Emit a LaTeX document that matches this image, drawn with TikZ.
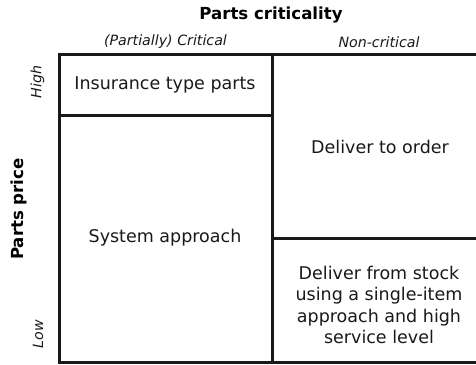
\documentclass[tikz,border=0pt]{standalone}
\usepackage{fontspec}
\setmainfont{DejaVu Sans}
\usepackage{tikz}
\usetikzlibrary{positioning}

\begin{document}
\begin{tikzpicture}[x=1pt, y=1pt]
  % Styles
  \tikzset{
    gridline/.style={line width=3pt, black!90},
    celltext/.style={font=\fontsize{17.5}{21.5}\selectfont, align=center, text=black!90},
    headtext/.style={font=\fontsize{14.2}{17}\selectfont\itshape, text=black!90},
    axistext/.style={font=\fontsize{16.6}{20}\selectfont\bfseries}
  }
  \useasboundingbox (0,0) rectangle (476,364);

  % Grid
  \draw[gridline] (476,309) -- (59,309) -- (59,2) -- (476,2);
  \draw[gridline] (272,309) -- (272,2);
  \draw[gridline] (59,248) -- (272,248);
  \draw[gridline] (272,125) -- (476,125);

  % Axis titles
  \node[axistext] (crit) at (271,349) {Parts criticality};
  \node[axistext, rotate=90] (price) at (18.5,155) {Parts price};

  % Column and row heads
  \node[headtext] (colcrit) at (165.5,322) {(Partially) Critical};
  \node[headtext] (colnon) at (379,322) {Non-critical};
  \node[headtext, rotate=90] (rowhigh) at (37.5,282) {High};
  \node[headtext, rotate=90] (rowlow) at (38,30) {Low};

  % Cells
  \node[celltext] (insurance) at (165,279) {Insurance type parts};
  \node[celltext] (system) at (165,126) {System approach};
  \node[celltext] (order) at (380,217) {Deliver to order};
  \node[celltext] (stock) at (379,59) {Deliver from stock\\using a single-item\\approach and high\\service level};
\end{tikzpicture}
\end{document}
